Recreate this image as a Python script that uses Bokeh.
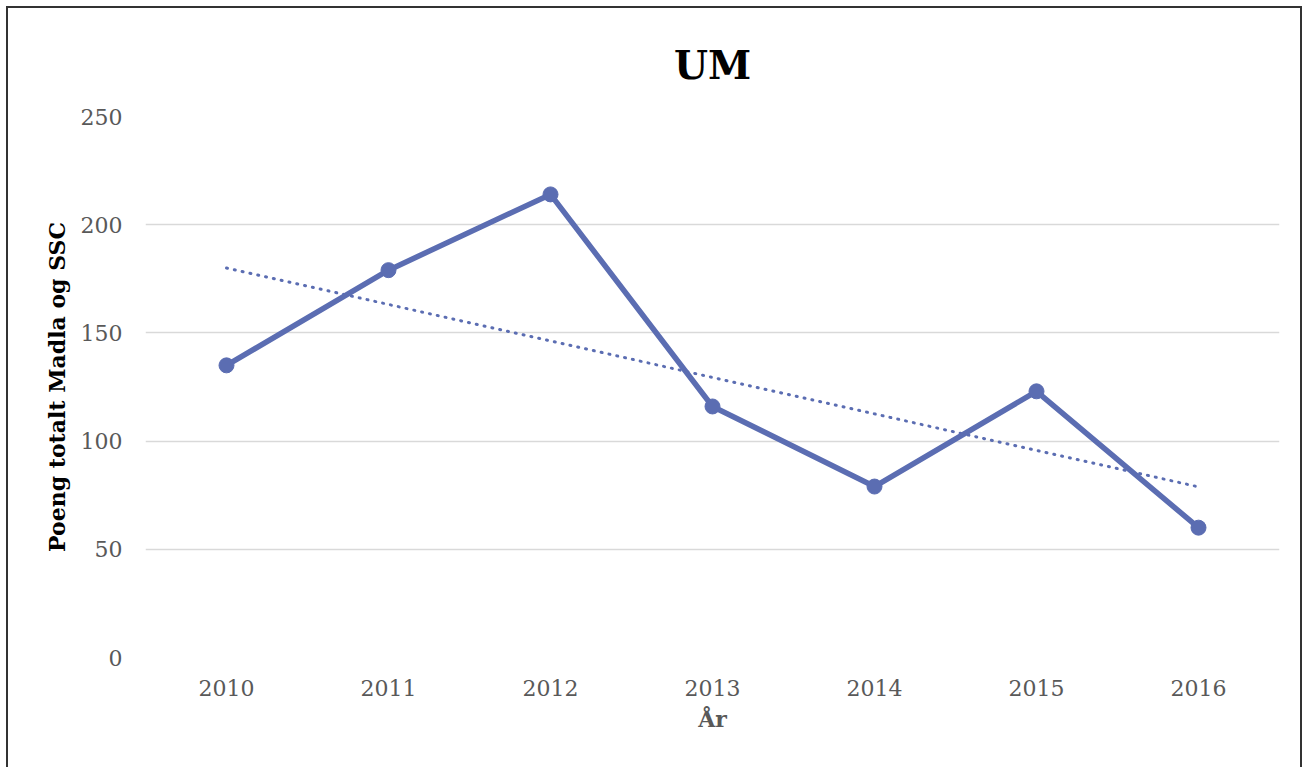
import numpy as np
from bokeh.plotting import figure
from bokeh.models import Range1d, ColumnDataSource
from bokeh.embed import file_html
from bokeh.resources import INLINE

years = ["2010", "2011", "2012", "2013", "2014", "2015", "2016"]
points = [135, 179, 214, 116, 79, 123, 60]
title_text = "UM"
x_label = "År"
y_label = "Poeng totalt Madla og SSC"

# linear trendline (least squares fit of the series)
idx = np.arange(len(points))
slope, intercept = np.polyfit(idx, points, 1)
trend = list(slope * idx + intercept)

COLOR = "#5B6DB2"
FONT = "DejaVu Serif"

p = figure(width=1296, height=761, x_range=years, y_range=Range1d(0, 250),
           output_backend="svg", toolbar_location=None,
           min_border_left=137, min_border_right=25, min_border_top=108, min_border_bottom=112)
p.margin = (6, 0, 0, 6)
p.styles = {"border-left": "2px solid #333333", "border-top": "2px solid #333333",
            "border-right": "2px solid #333333"}

p.title.text = title_text
p.title.align = "center"
p.title.text_font = FONT
p.title.text_font_style = "bold"
p.title.text_font_size = "39px"
p.title.text_color = "#000000"
p.title.standoff = 57

src = ColumnDataSource(dict(x=years, y=points, t=trend))
p.line("x", "t", source=src, line_color=COLOR, line_width=3, line_dash="1 7", line_cap="round")
p.line("x", "y", source=src, line_color=COLOR, line_width=5.5)
p.scatter("x", "y", source=src, size=15, fill_color=COLOR, line_color=COLOR)

p.outline_line_color = None
p.xgrid.grid_line_color = None
p.ygrid.grid_line_color = "#D9D9D9"
p.ygrid.grid_line_width = 1.5
p.yaxis.ticker = [0, 50, 100, 150, 200, 250]

for ax in (p.xaxis, p.yaxis):
    ax.axis_line_color = None
    ax.major_tick_line_color = None
    ax.minor_tick_line_color = None
    ax.major_label_text_font = FONT
    ax.major_label_text_font_size = "22px"
    ax.major_label_text_color = "#595959"
    ax.axis_label_text_font = FONT
    ax.axis_label_text_font_style = "bold"

p.yaxis.major_label_standoff = 17
p.xaxis.major_label_standoff = 16
p.xaxis.axis_label = x_label
p.xaxis.axis_label_text_font_size = "22px"
p.xaxis.axis_label_text_color = "#595959"
p.xaxis.axis_label_standoff = 7
p.yaxis.axis_label = y_label
p.yaxis.axis_label_text_font_size = "22px"
p.yaxis.axis_label_text_color = "#000000"
p.yaxis.axis_label_standoff = 8

open("out.html", "w").write(file_html(p, INLINE))
